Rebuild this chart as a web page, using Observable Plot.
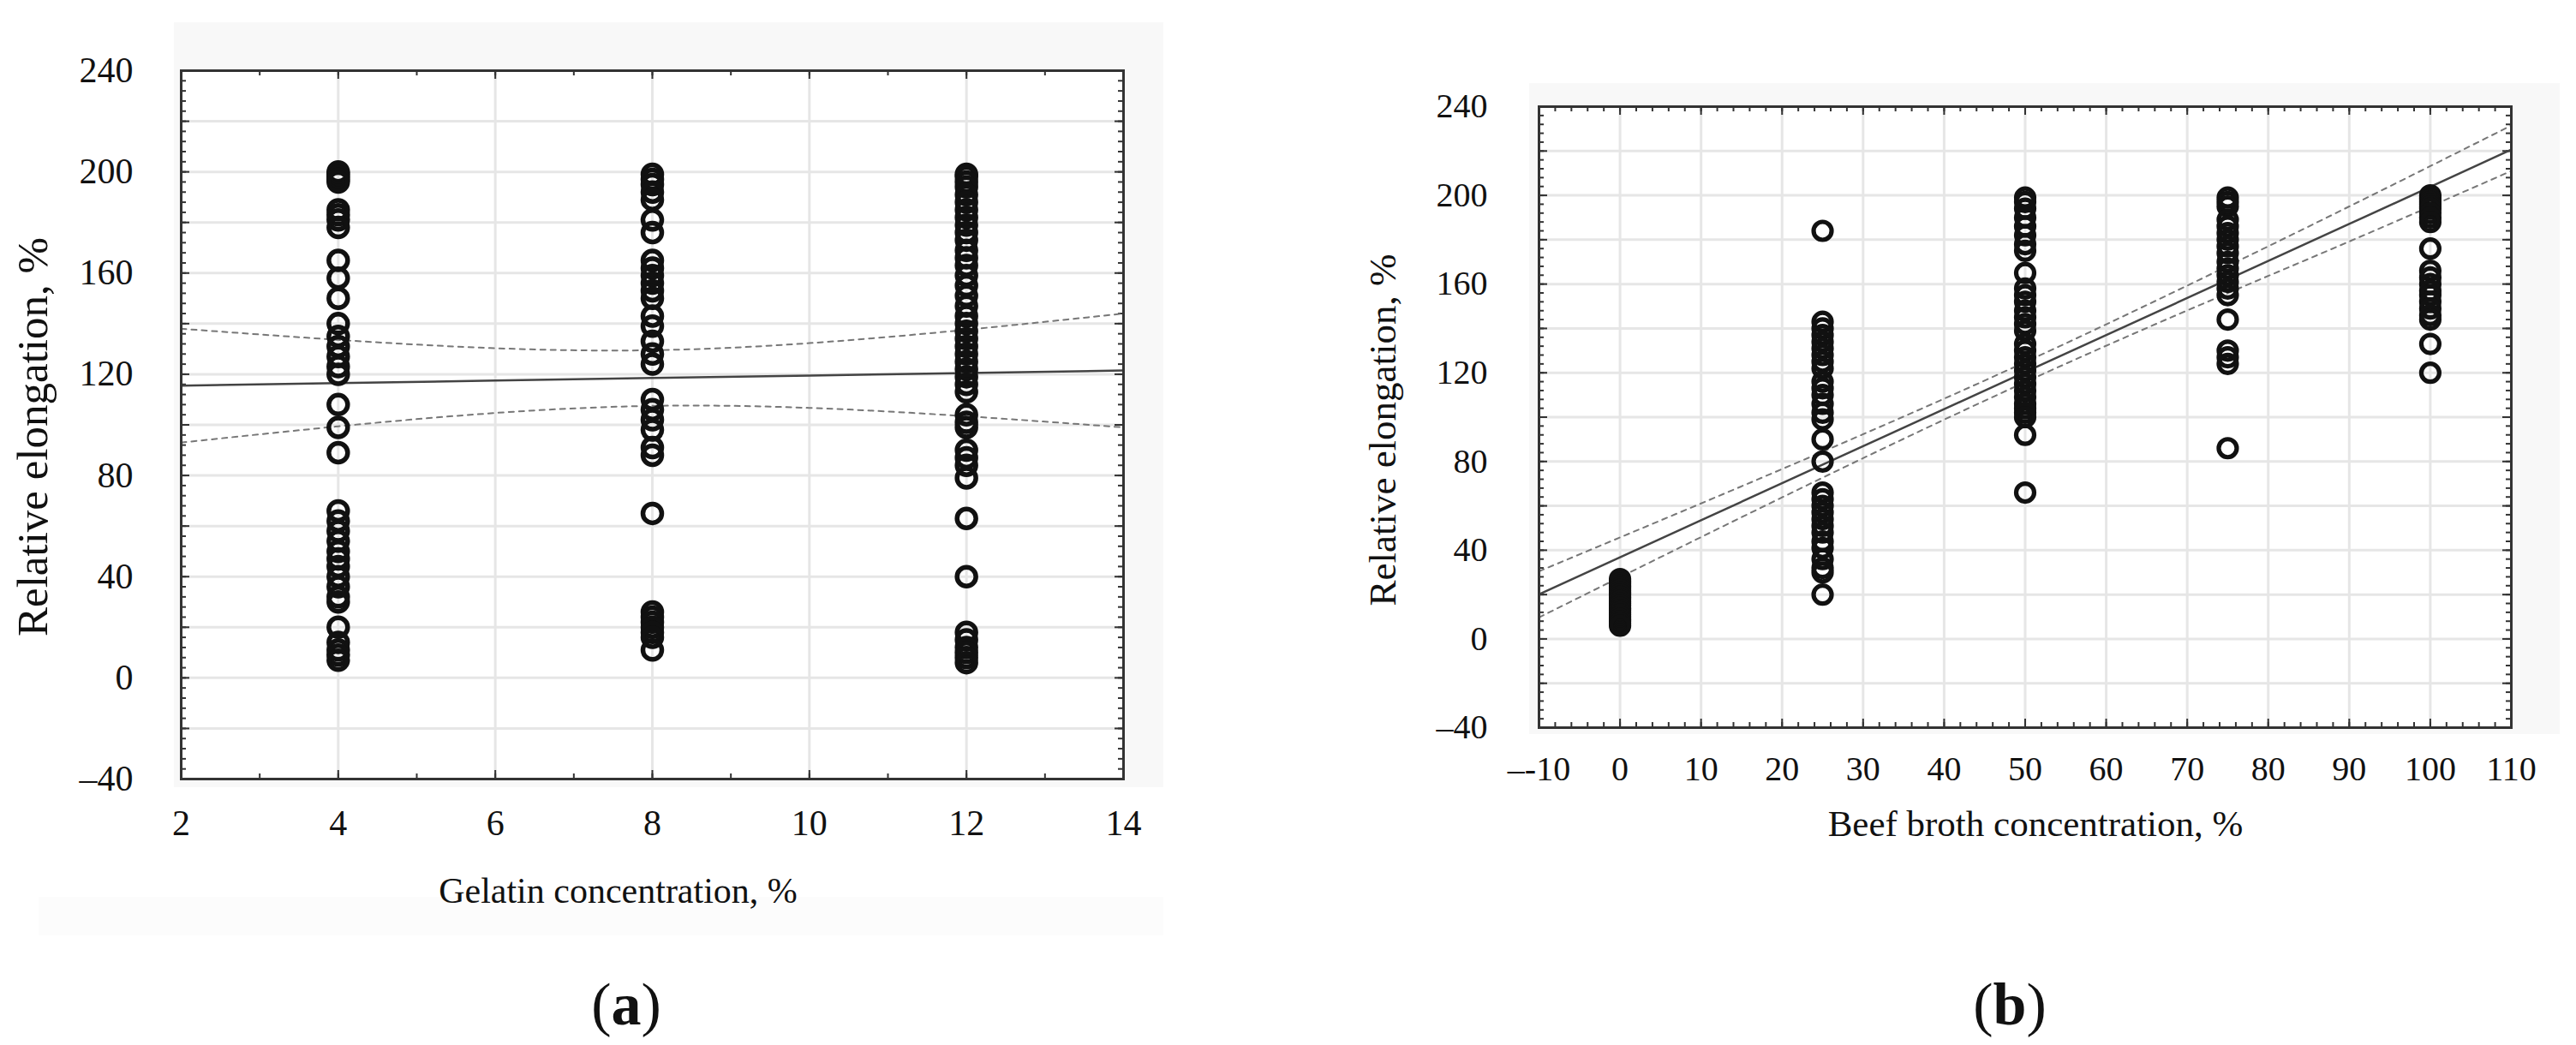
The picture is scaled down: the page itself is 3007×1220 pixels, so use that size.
<!DOCTYPE html>
<html>
<head>
<meta charset="utf-8">
<script src="https://cdn.jsdelivr.net/npm/d3@7"></script>
<script src="https://cdn.jsdelivr.net/npm/@observablehq/plot@0.6"></script>
<style>
  html, body { margin: 0; padding: 0; background: #fff; }
  #root { position: relative; width: 3007px; height: 1220px; background: #fff; overflow: hidden; font-family: 'Liberation Serif', 'Times New Roman', serif; }
  .bg { position: absolute; background: #f8f8f8; }
  .panel { position: absolute; top: 0; }
  .cap { position: absolute; width: 200px; text-align: center; font-size: 70px; line-height: 70px; color: #111; }
</style>
</head>
<body>
<div id="root">
  <div class="bg" style="left:203px;top:26px;width:1155px;height:893px"></div>
  <div class="bg" style="left:45px;top:1047px;width:1313px;height:45px;background:#fcfcfc"></div>
  <div class="bg" style="left:1785px;top:97px;width:1203px;height:760px"></div>
  <div id="pa" class="panel" style="left:0px"></div>
  <div id="pb" class="panel" style="left:1500px"></div>
  <div class="cap" style="left:631px;top:1138px">(<b>a</b>)</div>
  <div class="cap" style="left:2246px;top:1138px">(<b>b</b>)</div>
</div>
<script>
// ---------- Panel (a): Gelatin concentration ----------
const gelatinX = [4, 8, 12];
const gel4 = [200, 199, 198, 197, 196, 185, 183, 181, 178, 165, 158, 150, 140, 135, 131, 127, 123, 120, 108, 99, 89, 66, 62, 58, 54, 50, 47, 44, 40, 36, 32, 30, 20, 14, 11, 9, 7];
const gel8 = [199, 197, 195, 192, 189, 181, 176, 165, 162, 159, 156, 153, 150, 143, 139, 133, 128, 124, 110, 106, 102, 98, 91, 88, 65, 26, 24, 22, 20, 18, 16, 11];
const gel12 = [199, 198, 196, 194, 191, 188, 185, 182, 179, 176, 173, 169, 166, 163, 159, 155, 151, 147, 143, 140, 137, 134, 131, 128, 125, 122, 119, 116, 113, 104, 101, 99, 90, 87, 84, 79, 63, 40, 18, 15, 12, 10, 8, 6];
const gelFitX = [2, 4, 6, 8, 10, 12, 14];
const gelFit = [115.5, 116.5, 117.5, 118.5, 119.5, 120.5, 121.5];
const gelUpper = [138, 133.6, 130.3, 129.5, 132.3, 137.6, 144];
const gelLower = [93, 99.4, 104.7, 107.5, 106.7, 103.4, 99];
const gelXTicks = [2, 4, 6, 8, 10, 12, 14];
const gelYTicks = [-40, 0, 40, 80, 120, 160, 200, 240];
const gelXLabel = "Gelatin concentration, %";

// ---------- Panel (b): Beef broth concentration ----------
const brothX = [0, 25, 50, 75, 100];
const broth0 = [27, 26, 25, 24, 23, 22, 21, 20, 19, 18, 17, 16, 15, 14, 13, 12, 11, 10, 9, 8, 7, 6];
const broth25 = [184, 143, 140, 137, 134, 131, 128, 125, 122, 116, 113, 110, 106, 102, 99, 90, 80, 66, 63, 60, 57, 54, 51, 48, 44, 41, 36, 32, 30, 20];
const broth50 = [199, 197, 194, 190, 186, 182, 178, 175, 165, 158, 155, 152, 148, 145, 142, 139, 133, 130, 127, 124, 121, 118, 115, 112, 109, 106, 104, 102, 100, 92, 66];
const broth75 = [199, 197, 195, 189, 186, 183, 180, 177, 174, 170, 167, 164, 161, 158, 155, 144, 130, 127, 124, 86];
const broth100 = [200, 199, 198, 197, 196, 195, 194, 192, 190, 188, 176, 166, 163, 160, 157, 155, 152, 149, 146, 144, 133, 120];
const brothFitX = [-10, 10, 30, 50, 70, 90, 110];
const brothFit = [20.1, 53.5, 86.9, 120.3, 153.7, 187.1, 220.6];
const brothUpper = [30.5, 61.1, 92.3, 124.8, 159.3, 195, 231.5];
const brothLower = [9.7, 45.9, 81.5, 115.8, 148.1, 179.2, 211];
const brothXTicks = [-10, 0, 10, 20, 30, 40, 50, 60, 70, 80, 90, 100, 110];
const brothYTicks = [-40, 0, 40, 80, 120, 160, 200, 240];
const brothXLabel = "Beef broth concentration, %";

const yLabel = "Relative elongation, %";

// ---------- helpers ----------
const yFmt = d => d < 0 ? "\u2013" + Math.abs(d) : String(d);
const xFmtB = d => d < 0 ? "\u2013-" + Math.abs(d) : String(d);

function panel(o) {
  const pw = o.width - o.ml - o.mr;
  const ph = o.height - o.mt - o.mb;
  const pts = o.cols.flatMap((x, i) => o.vals[i].map(y => ({x, y})));
  const fitRows = o.fitX.map((x, i) => ({x, fit: o.fit[i], up: o.upper[i], lo: o.lower[i]}));
  const tickStyle = {stroke: "#333", strokeWidth: 2};
  return Plot.plot({
    width: o.width, height: o.height,
    marginLeft: o.ml, marginRight: o.mr, marginTop: o.mt, marginBottom: o.mb,
    x: {domain: o.xDomain, ticks: o.xTicks, tickSize: 0, tickPadding: o.xPad, label: null, tickFormat: o.xFmt},
    y: {domain: o.yDomain, ticks: o.yTicks, tickSize: 0, tickPadding: o.yPad, label: null, tickFormat: yFmt},
    style: {fontFamily: "'Liberation Serif', 'Times New Roman', serif", fontSize: o.tickFont + "px", color: "#111", background: "transparent", overflow: "visible"},
    marks: [
      Plot.frame({fill: "white"}),
      Plot.ruleX(o.xGrid, {stroke: "#e6e6e6", strokeWidth: 3}),
      Plot.ruleY(o.yGrid, {stroke: "#e6e6e6", strokeWidth: 3}),
      // minor ticks (inward) on all four sides
      Plot.tickY(o.yMinor, {y: d => d, insetRight: pw - 6, ...tickStyle}),
      Plot.tickY(o.yMinor, {y: d => d, insetLeft: pw - 6, ...tickStyle}),
      Plot.tickY(o.yGrid, {y: d => d, insetRight: pw - 10, ...tickStyle}),
      Plot.tickY(o.yGrid, {y: d => d, insetLeft: pw - 10, ...tickStyle}),
      Plot.tickX(o.xMinor, {x: d => d, insetTop: ph - 6, ...tickStyle}),
      Plot.tickX(o.xMinor, {x: d => d, insetBottom: ph - 6, ...tickStyle}),
      Plot.tickX(o.xGrid, {x: d => d, insetTop: ph - 10, ...tickStyle}),
      Plot.tickX(o.xGrid, {x: d => d, insetBottom: ph - 10, ...tickStyle}),
      // regression line and confidence band
      Plot.line(fitRows, {x: "x", y: "up", stroke: "#777", strokeWidth: 2, strokeDasharray: "6,6", curve: "natural"}),
      Plot.line(fitRows, {x: "x", y: "lo", stroke: "#777", strokeWidth: 2, strokeDasharray: "6,6", curve: "natural"}),
      Plot.line(fitRows, {x: "x", y: "fit", stroke: "#444", strokeWidth: 2.5}),
      // observations
      Plot.dot(pts, {x: "x", y: "y", r: o.r, stroke: "#111", strokeWidth: o.sw, fill: "none"}),
      Plot.frame({stroke: "#333", strokeWidth: 3}),
      // axis titles
      Plot.text([o.xLabel], {text: d => d, frameAnchor: "bottom", textAnchor: "middle", lineAnchor: "middle", dy: o.xLabDy, dx: o.xLabDx, fontSize: o.xLabFont, fill: "#111"}),
      Plot.text([yLabel], {text: d => d, frameAnchor: "left", textAnchor: "middle", lineAnchor: "middle", rotate: -90, dx: o.yLabDx, dy: o.yLabDy, fontSize: o.yLabFont, fill: "#111"})
    ]
  });
}

const chartA = panel({
  width: 1400, height: 1000, ml: 211, mr: 89, mt: 82, mb: 91,
  xDomain: [2, 14], yDomain: [-40, 240],
  xTicks: gelXTicks, yTicks: gelYTicks, xFmt: d => String(d),
  xGrid: [4, 6, 8, 10, 12], yGrid: d3.range(-20, 240, 20),
  xMinor: d3.range(3, 14, 1), yMinor: d3.range(-36, 240, 4),
  xPad: 36, yPad: 56, tickFont: 42,
  cols: gelatinX, vals: [gel4, gel8, gel12],
  fitX: gelFitX, fit: gelFit, upper: gelUpper, lower: gelLower,
  r: 11, sw: 5.5,
  xLabel: gelXLabel, xLabDy: 131, xLabDx: -40, xLabFont: 42,
  yLabDx: -173, yLabDy: 14, yLabFont: 51
});
document.getElementById("pa").appendChild(chartA);

const chartB = panel({
  width: 1507, height: 1000, ml: 296, mr: 76, mt: 124, mb: 151,
  xDomain: [-10, 110], yDomain: [-40, 240],
  xTicks: brothXTicks, yTicks: brothYTicks, xFmt: xFmtB,
  xGrid: d3.range(0, 110, 10), yGrid: d3.range(-20, 240, 20),
  xMinor: d3.range(-8, 110, 2), yMinor: d3.range(-36, 240, 4),
  xPad: 33, yPad: 60, tickFont: 40,
  cols: brothX, vals: [broth0, broth25, broth50, broth75, broth100],
  fitX: brothFitX, fit: brothFit, upper: brothUpper, lower: brothLower,
  r: 10.5, sw: 5.2,
  xLabel: brothXLabel, xLabDy: 113, xLabDx: 12, xLabFont: 43,
  yLabDx: -182, yLabDy: 15, yLabFont: 45
});
document.getElementById("pb").appendChild(chartB);
</script>
</body>
</html>
